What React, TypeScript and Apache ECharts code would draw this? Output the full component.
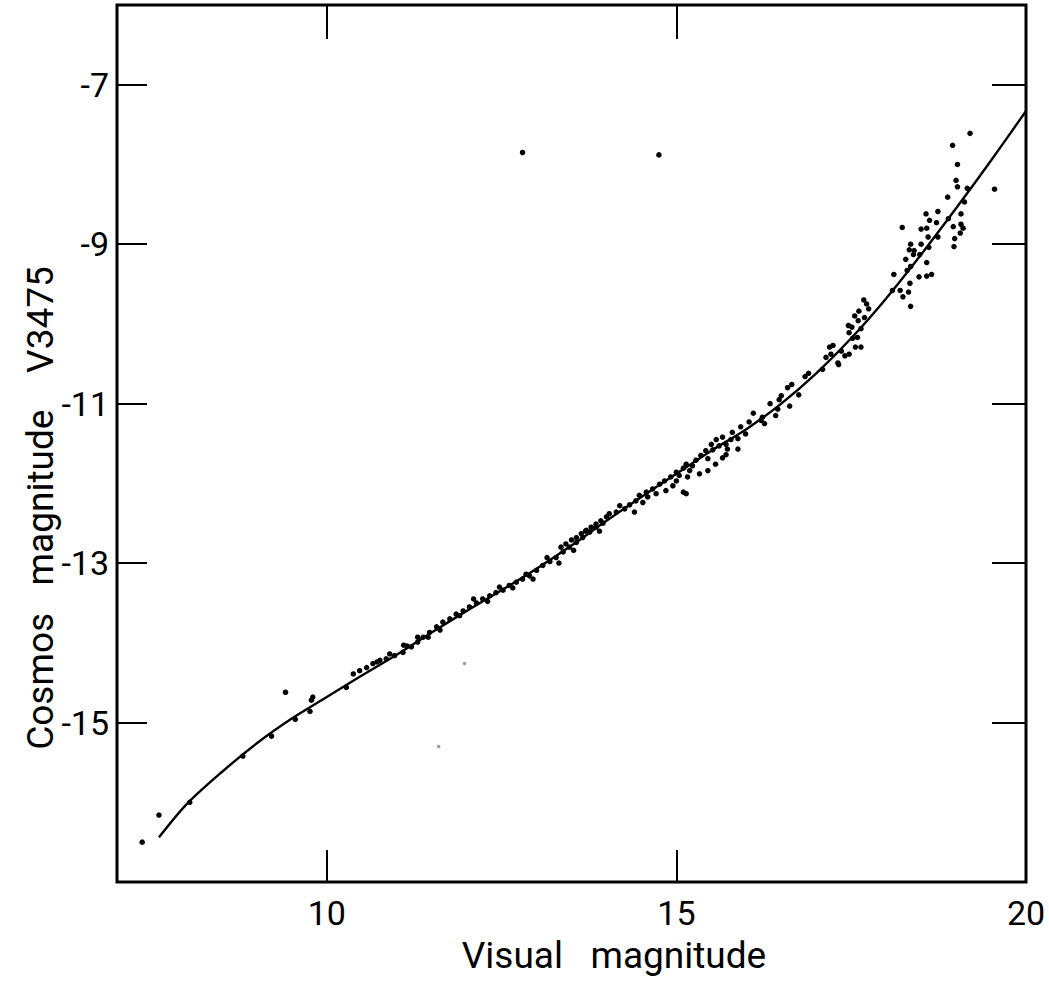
import React, { useEffect, useRef } from "react";
import * as echarts from "echarts";

// Axis ranges and tick values
const xRange = [7, 20];
const yRange = [-17, -6];
const xTickValues = [10, 15];
const xLabelValues = [10, 15, 20];
const yTickValues = [-15, -13, -11, -9, -7];

// Fitted calibration curve (visual magnitude -> Cosmos magnitude)
const fitX = [7.6, 8.0, 8.5, 9.0, 9.5, 10.0, 10.5, 11.0, 11.5, 12.0, 12.5, 13.0, 13.5, 14.0, 14.5, 15.0, 15.5, 16.0, 16.5, 17.0, 17.5, 18.0, 18.5, 19.0, 19.5, 20.0];
const fitY = [-16.44, -16.02, -15.62, -15.26, -14.95, -14.68, -14.41, -14.15, -13.87, -13.6, -13.34, -13.07, -12.78, -12.47, -12.17, -11.88, -11.59, -11.32, -11.0, -10.62, -10.18, -9.68, -9.13, -8.55, -7.95, -7.33];

// Stars: bright end
const brightStars = [
  [7.36, -16.5], [7.6, -16.16], [8.04, -16.0], [8.8, -15.42], [9.21, -15.17], [9.41, -14.62],
  [9.55, -14.96], [9.76, -14.86], [9.8, -14.68], [9.78, -14.72], [10.28, -14.56],
  [10.72, -14.24], [10.9, -14.14], [11.1, -14.03], [11.3, -13.93],
];

// Stars: dense band 10.4 - 14
const midStars = [
  [10.38, -14.39], [10.47, -14.35], [10.57, -14.31], [10.66, -14.26], [10.76, -14.22], [10.85, -14.2],
  [10.97, -14.16], [11.09, -14.12], [11.21, -14.05], [11.3, -13.99], [11.38, -13.93], [11.47, -13.87],
  [11.57, -13.8], [11.66, -13.74], [11.76, -13.7], [11.85, -13.64], [11.95, -13.6], [12.04, -13.55],
  [12.14, -13.5], [12.23, -13.45], [12.33, -13.41], [12.42, -13.37], [12.52, -13.34], [12.61, -13.28],
  [12.71, -13.24], [12.8, -13.2], [12.9, -13.16], [13.0, -13.09], [13.09, -13.03], [13.19, -12.98],
  [13.28, -12.93], [13.38, -12.86], [13.47, -12.8], [13.57, -12.74], [13.66, -12.68], [13.76, -12.61],
  [13.85, -12.55], [13.95, -12.5],
  [11.15, -14.04], [11.45, -13.93], [11.62, -13.84], [11.9, -13.66], [12.1, -13.45], [12.3, -13.48],
  [12.47, -13.3], [12.66, -13.31], [12.85, -13.14], [12.95, -13.2], [13.15, -12.93], [13.32, -13.0],
  [13.53, -12.84], [13.7, -12.6], [13.9, -12.6],
];

// Stars: band 13.3 - 16.1
const faintBandStars = [
  [16.1, -11.12], [16.04, -11.23], [15.92, -11.29], [15.99, -11.38], [15.8, -11.36], [15.88, -11.44],
  [15.78, -11.45], [15.66, -11.42], [15.71, -11.51], [15.57, -11.45], [15.61, -11.53], [15.5, -11.51],
  [15.88, -11.57], [15.52, -11.58], [15.42, -11.59], [15.35, -11.65], [15.71, -11.64], [15.66, -11.68],
  [15.45, -11.69], [15.28, -11.71], [15.56, -11.76], [15.23, -11.78], [15.14, -11.76], [15.1, -11.81],
  [15.19, -11.84], [15.0, -11.86], [15.04, -11.9], [15.16, -11.92], [14.92, -11.92], [15.0, -11.97],
  [14.83, -11.97], [14.76, -12.01], [14.95, -12.03], [15.1, -12.11], [14.66, -12.07], [14.85, -12.09],
  [14.71, -12.13], [14.57, -12.11], [14.59, -12.17], [14.47, -12.15], [14.42, -12.22], [14.52, -12.24],
  [14.33, -12.27], [14.4, -12.36], [14.26, -12.32], [14.19, -12.28], [14.14, -12.36], [14.04, -12.38],
  [14.0, -12.42], [13.92, -12.47], [13.85, -12.51], [13.78, -12.55], [13.71, -12.59], [13.64, -12.63],
  [13.57, -12.68], [13.5, -12.71], [13.42, -12.76], [13.35, -12.8],
  [15.14, -12.13], [15.33, -11.88], [15.45, -11.84], [15.73, -11.57],
];

// Stars: faint end 16.2 - 18.2
const faintStars = [
  [18.11, -9.38], [18.09, -9.58], [17.68, -9.7], [17.72, -9.75], [17.61, -9.84], [17.75, -9.81],
  [17.55, -9.9], [17.69, -9.92], [17.6, -9.96], [17.46, -10.02], [17.51, -10.04], [17.64, -10.06],
  [17.47, -10.11], [17.59, -10.17], [17.52, -10.18], [17.56, -10.29], [17.64, -10.29], [17.24, -10.27],
  [17.19, -10.29], [17.36, -10.34], [17.21, -10.38], [17.14, -10.42], [17.41, -10.4], [17.47, -10.38],
  [17.31, -10.49], [17.32, -10.51], [17.09, -10.57], [16.89, -10.62], [16.84, -10.66], [16.65, -10.76],
  [16.59, -10.8], [16.75, -10.89], [16.5, -10.9], [16.47, -10.95], [16.34, -11.0], [16.62, -11.03],
  [16.45, -11.07], [16.42, -11.15], [16.23, -11.17], [16.26, -11.25], [16.21, -11.21],
];

// Stars: faintest end 18.2 - 19.6
const faintestStars = [
  [19.2, -7.61], [18.95, -7.76], [19.02, -8.0], [19.0, -8.2], [19.02, -8.28], [19.16, -8.3],
  [19.55, -8.31], [18.88, -8.41], [19.12, -8.47], [18.74, -8.59], [18.57, -8.62], [18.62, -8.7],
  [18.72, -8.73], [18.89, -8.68], [19.07, -8.62], [19.07, -8.75], [19.1, -8.8], [18.96, -8.78],
  [18.23, -8.79], [18.5, -8.81], [18.58, -8.8], [19.06, -8.86], [18.6, -8.91], [18.74, -8.91],
  [18.98, -8.93], [18.5, -9.0], [18.35, -9.0], [18.61, -9.04], [18.97, -9.03], [18.33, -9.07],
  [18.4, -9.08], [18.39, -9.13], [18.48, -9.13], [18.28, -9.19], [18.58, -9.23], [18.35, -9.28],
  [18.3, -9.33], [18.47, -9.41], [18.58, -9.4], [18.65, -9.38], [18.34, -9.49], [18.2, -9.58],
  [18.32, -9.6], [18.24, -9.66], [18.35, -9.78],
];

// Isolated outliers
const outlierStars = [
  [12.8, -7.85], [14.75, -7.88],
];

// Very faint marks on the plate
const faintMarks = [
  [11.97, -14.26], [11.6, -15.3],
];

const FONT = "Roboto, 'DejaVu Sans', sans-serif";
const INK = "#000000";

export default function App() {
  const ref = useRef<HTMLDivElement>(null);

  useEffect(() => {
    if (!ref.current) return;
    const chart = echarts.init(ref.current, null, { renderer: "svg" });

    const tickStyle = { color: INK, width: 2 };
    const labelStyle = { fontFamily: FONT, fontSize: 34, color: INK };
    const allStars = [
      ...brightStars,
      ...midStars,
      ...faintBandStars,
      ...faintStars,
      ...faintestStars,
      ...outlierStars,
    ];

    chart.setOption({
      animation: false,
      backgroundColor: "#ffffff",
      grid: {
        left: 117,
        right: 23,
        top: 5,
        bottom: 103,
        show: true,
        borderColor: INK,
        borderWidth: 3,
        backgroundColor: "transparent",
      },
      xAxis: [
        {
          type: "value",
          min: xRange[0],
          max: xRange[1],
          position: "bottom",
          axisLine: { show: false },
          splitLine: { show: false },
          axisTick: { inside: true, length: 32, lineStyle: tickStyle, customValues: xTickValues },
          axisLabel: { customValues: xLabelValues, margin: 14, ...labelStyle },
        },
        {
          type: "value",
          min: xRange[0],
          max: xRange[1],
          position: "top",
          axisLine: { show: false },
          splitLine: { show: false },
          axisTick: { inside: true, length: 34, lineStyle: tickStyle, customValues: xTickValues },
          axisLabel: { show: false },
        },
      ],
      yAxis: [
        {
          type: "value",
          min: yRange[0],
          max: yRange[1],
          position: "left",
          axisLine: { show: false },
          splitLine: { show: false },
          axisTick: { inside: true, length: 30, lineStyle: tickStyle, customValues: yTickValues },
          axisLabel: { customValues: yTickValues, margin: 8, ...labelStyle },
        },
        {
          type: "value",
          min: yRange[0],
          max: yRange[1],
          position: "right",
          axisLine: { show: false },
          splitLine: { show: false },
          axisTick: { inside: true, length: 34, lineStyle: tickStyle, customValues: yTickValues },
          axisLabel: { show: false },
        },
      ],
      graphic: [
        {
          type: "text",
          x: 614,
          y: 955,
          style: {
            text: "Visual   magnitude",
            fontFamily: FONT,
            fontSize: 37,
            fill: INK,
            textAlign: "center",
            textVerticalAlign: "middle",
          },
        },
        {
          type: "text",
          x: 40,
          y: 508,
          rotation: Math.PI / 2,
          style: {
            text: "Cosmos   magnitude    V3475",
            fontFamily: FONT,
            fontSize: 37,
            fill: INK,
            textAlign: "center",
            textVerticalAlign: "middle",
          },
        },
      ],
      series: [
        {
          name: "Calibration",
          type: "line",
          xAxisIndex: 0,
          yAxisIndex: 0,
          data: fitX.map((x, i) => [x, fitY[i]]),
          smooth: 0.3,
          symbol: "none",
          lineStyle: { color: INK, width: 2.4 },
          z: 3,
        },
        {
          name: "Stars",
          type: "scatter",
          xAxisIndex: 0,
          yAxisIndex: 0,
          data: allStars,
          symbol: "circle",
          symbolSize: 5.5,
          itemStyle: { color: INK, opacity: 1 },
          z: 4,
        },
        {
          name: "Faint marks",
          type: "scatter",
          xAxisIndex: 0,
          yAxisIndex: 0,
          data: faintMarks,
          symbol: "circle",
          symbolSize: 3.5,
          itemStyle: { color: "#9a9a9a", opacity: 1 },
          z: 2,
        },
      ],
    });

    return () => chart.dispose();
  }, []);

  return (
    <div
      ref={ref}
      style={{ position: "fixed", left: 0, top: 0, width: 1049, height: 985 }}
    />
  );
}
